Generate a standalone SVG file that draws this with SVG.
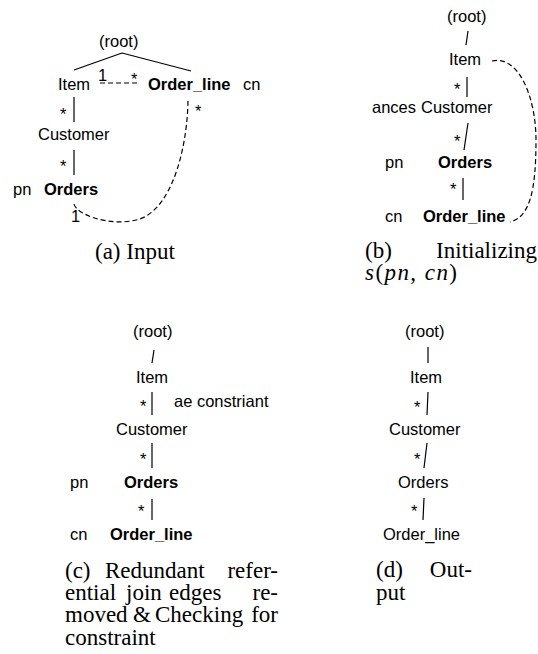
<svg xmlns="http://www.w3.org/2000/svg" width="538" height="654" viewBox="0 0 538 654">
<style>
.t{font-family:"Liberation Sans",Arial,sans-serif;font-size:16.5px;fill:#000}
.b{font-weight:bold}
.s{font-family:"Liberation Sans",Arial,sans-serif;font-size:16.5px;fill:#000}
.cap{font-family:"Liberation Serif","Times New Roman",serif;font-size:23px;fill:#000}
.r{text-anchor:end}
.e{stroke:#000;stroke-width:1.2;fill:none}
.d{stroke:#000;stroke-width:1.2;fill:none;stroke-dasharray:5 3}
</style>
<rect width="538" height="654" fill="#fff"/>

<!-- Panel (a) -->
<g id="a-root"><text class="t" x="99" y="47">(root)</text></g>
<g id="a-item"><text class="t" x="58" y="90">Item</text></g>
<g id="a-orderline"><text class="t b" x="148" y="90">Order_line</text><text class="t" x="243" y="90">cn</text></g>
<g id="a-customer"><text class="t" x="38" y="140">Customer</text></g>
<g id="a-orders"><text class="t" x="13" y="195">pn</text><text class="t b" x="44" y="195">Orders</text></g>
<g id="a-connectors">
<path class="e" d="M122,53 L74,70 M122,53 L191,71"/>
<path class="d" d="M100,83 L139,83"/>
<text class="s" x="98" y="81">1</text>
<text class="s" x="131" y="84.5">*</text>
<path class="e" d="M74,97 L74,122"/>
<text class="s" x="60" y="119.5">*</text>
<path class="e" d="M74,150 L74,175"/>
<text class="s" x="60" y="171.5">*</text>
<path class="d" d="M74,204 C76,214 110,228 140,219 C175,206 188,140 188,98"/>
<text class="s" x="71" y="222">1</text>
<text class="s" x="195" y="117">*</text>
</g>
<g id="cap-a"><text class="cap" x="95" y="259">(a) Input</text></g>

<!-- Panel (b) -->
<g id="b-root"><text class="t" x="447" y="22">(root)</text></g>
<g id="b-item"><text class="t" x="449" y="65">Item</text></g>
<g id="b-customer"><text class="t" x="372" y="113">ances</text><text class="t" x="421" y="113">Customer</text></g>
<g id="b-orders"><text class="t" x="385" y="168">pn</text><text class="t b" x="438" y="168">Orders</text></g>
<g id="b-orderline"><text class="t" x="385" y="222">cn</text><text class="t b" x="423" y="222">Order_line</text></g>
<g id="b-connectors">
<path class="e" d="M468,31 L466,45"/>
<path class="d" d="M492,61 C520,55 536,100 536,140 C536,190 530,217 510,222"/>
<path class="e" d="M467,77 L467,97"/>
<text class="s" x="454" y="94.5">*</text>
<path class="e" d="M468,123 L464,150"/>
<text class="s" x="454" y="146.5">*</text>
<path class="e" d="M463,178 L463,200"/>
<text class="s" x="450" y="194.5">*</text>
</g>
<g id="cap-b">
<text class="cap" x="365" y="258">(b)</text>
<text class="cap r" x="537" y="258">Initializing</text>
<text class="cap" x="365" y="280" textLength="92" lengthAdjust="spacing"><tspan font-style="italic">s</tspan>(<tspan font-style="italic">pn</tspan>, <tspan font-style="italic">cn</tspan>)</text>
</g>

<!-- Panel (c) -->
<g id="c-root"><text class="t" x="133" y="337">(root)</text></g>
<g id="c-item"><text class="t" x="136" y="383">Item</text></g>
<g id="c-customer"><text class="t" x="116" y="435">Customer</text></g>
<g id="c-orders"><text class="t" x="70" y="488">pn</text><text class="t b" x="124" y="488">Orders</text></g>
<g id="c-orderline"><text class="t" x="70" y="540">cn</text><text class="t b" x="110" y="540">Order_line</text></g>
<g id="c-connectors">
<path class="e" d="M154,350 L152,363"/>
<path class="e" d="M152,392 L152,415"/>
<text class="s" x="140" y="411.5">*</text>
<text class="t" x="174" y="407">ae constriant</text>
<path class="e" d="M152,443 L152,468"/>
<text class="s" x="140" y="464.5">*</text>
<path class="e" d="M152,499 L152,520"/>
<text class="s" x="138" y="516.5">*</text>
</g>
<g id="cap-c">
<text class="cap" x="65" y="578">(c)</text>
<text class="cap" x="105" y="578">Redundant</text>
<text class="cap r" x="278" y="578">refer-</text>
<text class="cap" x="65" y="600">ential</text>
<text class="cap" x="126" y="600">join</text>
<text class="cap" x="169" y="600">edges</text>
<text class="cap r" x="278" y="600">re-</text>
<text class="cap" x="65" y="622">moved</text>
<text class="cap" x="133" y="622">&amp;</text>
<text class="cap" x="155" y="622">Checking</text>
<text class="cap r" x="278" y="622">for</text>
<text class="cap" x="65" y="645">constraint</text>
</g>

<!-- Panel (d) -->
<g id="d-root"><text class="t" x="405" y="337">(root)</text></g>
<g id="d-item"><text class="t" x="410" y="383">Item</text></g>
<g id="d-customer"><text class="t" x="389" y="435">Customer</text></g>
<g id="d-orders"><text class="t" x="398" y="488">Orders</text></g>
<g id="d-orderline"><text class="t" x="383" y="540">Order_line</text></g>
<g id="d-connectors">
<path class="e" d="M428,347 L428,363"/>
<path class="e" d="M428,392 L427,415"/>
<text class="s" x="414" y="412.5">*</text>
<path class="e" d="M427,443 L424,468"/>
<text class="s" x="414" y="464.5">*</text>
<path class="e" d="M424,498 L423,520"/>
<text class="s" x="411" y="516.5">*</text>
</g>
<g id="cap-d">
<text class="cap" x="376" y="577">(d)</text>
<text class="cap r" x="472" y="577">Out-</text>
<text class="cap" x="376" y="600">put</text>
</g>
</svg>
